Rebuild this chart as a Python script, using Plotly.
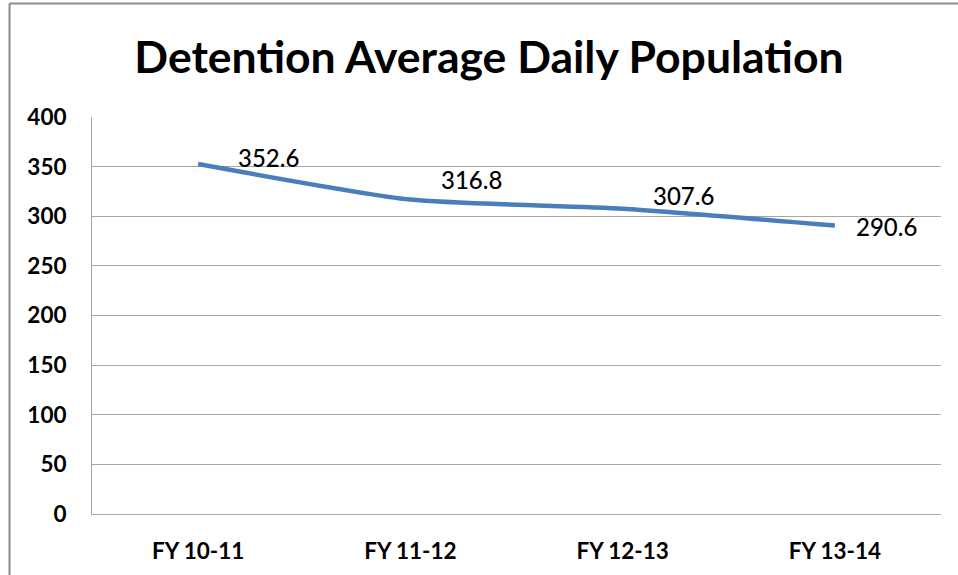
import plotly.graph_objects as go

categories = ["FY 10-11", "FY 11-12", "FY 12-13", "FY 13-14"]
values = [352.6, 316.8, 307.6, 290.6]
value_labels = ["352.6", "316.8", "307.6", "290.6"]
y_ticks = [0, 50, 100, 150, 200, 250, 300, 350, 400]

label_shifts = [(70, 7), (61, 20), (61, 13), (52, -1)]

W, H = 958, 575
L, R, T, B = 92, 17, 117, 61
pw, ph = W - L - R, H - T - B

fig = go.Figure()
fig.add_trace(go.Scatter(
    x=categories, y=values, mode="lines",
    line=dict(color="#4a7ebb", width=4.5, shape="spline", smoothing=0.6),
    hoverinfo="skip", showlegend=False,
))

font_fam = "Lato, 'Open Sans', sans-serif"
for c, v, t, (dx, dy) in zip(categories, values, value_labels, label_shifts):
    fig.add_annotation(x=c, y=v, text=t, showarrow=False, xshift=dx, yshift=dy,
                       font=dict(family=font_fam, size=24, color="#000", weight=500))

# outer frame lines (top and left)
x_left = (9.5 - L) / pw
x_right = (W + 5 - L) / pw
y_top = (H - B - 3.5) / ph
y_bot = (H - B - H - 5) / ph
fig.add_shape(type="line", xref="paper", yref="paper", x0=x_left, x1=x_right, y0=y_top, y1=y_top,
              line=dict(color="#8c8c8c", width=2))
fig.add_shape(type="line", xref="paper", yref="paper", x0=x_left, x1=x_left, y0=y_bot, y1=y_top,
              line=dict(color="#8c8c8c", width=2))

tick_font = dict(family=font_fam, size=22.5, color="#000", weight="bold")

fig.update_layout(
    width=W, height=H,
    margin=dict(l=L, r=R, t=T, b=B, autoexpand=False),
    paper_bgcolor="white", plot_bgcolor="white",
    title=dict(text="Detention Average Daily Population", x=489 / W, xanchor="center",
               xref="container", y=1 - 57 / H, yanchor="middle",
               font=dict(family=font_fam, size=44.5, color="#000", weight="bold")),
    xaxis=dict(range=[-0.5, 3.5], showgrid=False, showline=True, linecolor="#a6a6a6", linewidth=1,
               ticks="", tickfont=tick_font, ticklabelstandoff=17, fixedrange=True, automargin=False),
    yaxis=dict(range=[0, 400], tickvals=y_ticks, showgrid=True, gridcolor="#a6a6a6", gridwidth=1,
               showline=True, linecolor="#a6a6a6", linewidth=1, zeroline=False,
               ticks="", tickfont=tick_font, ticklabelstandoff=20, fixedrange=True, automargin=False),
)

fig.write_html("out.html", config={"displayModeBar": False, "staticPlot": True},
               post_script="document.body.style.margin='0px';document.body.style.overflow='hidden';")
